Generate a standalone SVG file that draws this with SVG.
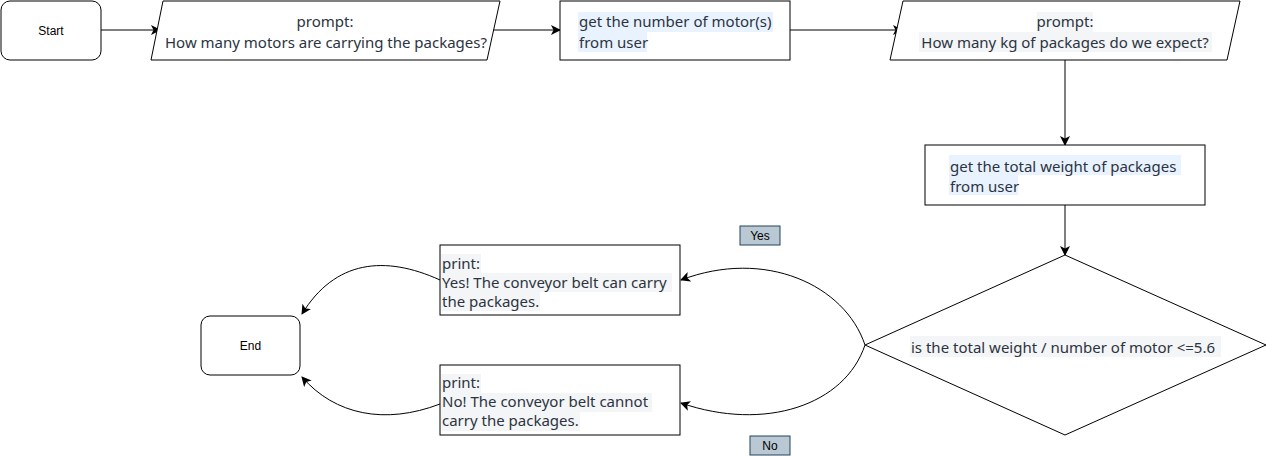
<svg xmlns="http://www.w3.org/2000/svg" width="1266" height="456" viewBox="0 0 1266 456">
<defs>
<style>
.shape{fill:#ffffff;stroke:#000000;stroke-width:1}
.lbl{font-family:"Liberation Sans",Arial,sans-serif;font-size:12px;fill:#000000}
.t{font-family:"Noto Sans","Open Sans",sans-serif;font-size:15px;fill:#2b3440}
.hb{fill:#e9f2ff}
.hg{fill:#f4f5f7}
.edge{fill:none;stroke:#000000;stroke-width:1}
.tag{fill:#bac8d3;stroke:#23445d;stroke-width:1}
</style>
<marker id="arr" viewBox="0 0 10 10" refX="9" refY="5" markerWidth="10" markerHeight="10" markerUnits="userSpaceOnUse" orient="auto">
<path d="M0,0 L10,5 L0,10 L2.5,5 Z" fill="#000000"/>
</marker>
</defs>
<rect width="1266" height="456" fill="#ffffff"/>
<g id="connectors">
<path class="edge" d="M101,30 L160,30" marker-end="url(#arr)"/>
<path class="edge" d="M492,30 L560,30" marker-end="url(#arr)"/>
<path class="edge" d="M790,30 L902,30" marker-end="url(#arr)"/>
<path class="edge" d="M1065,60 L1065,145" marker-end="url(#arr)"/>
<path class="edge" d="M1065,205 L1065,255" marker-end="url(#arr)"/>
<path class="edge" d="M865,345 C845,285 765,248 681,280" marker-end="url(#arr)"/>
<path class="edge" d="M865,345 C845,405 765,432 681,403" marker-end="url(#arr)"/>
<path class="edge" d="M440,280 C385,255 335,260 302,314" marker-end="url(#arr)"/>
<path class="edge" d="M440,404 C385,425 335,415 302,377" marker-end="url(#arr)"/>
</g>
<g id="start">
<rect class="shape" x="1" y="1" width="100" height="59" rx="9"/>
<text class="lbl" x="51" y="35" text-anchor="middle">Start</text>
</g>
<g id="prompt1">
<polygon class="shape" points="163,1 500,1 487,60 151,60"/>
<text class="t" x="325" y="27" text-anchor="middle">prompt:</text>
<text class="t" x="326" y="48" text-anchor="middle">How many motors are carrying the packages?</text>
</g>
<g id="getMotors">
<rect class="shape" x="560" y="1" width="230" height="59"/>
<rect class="hb" x="578" y="12" width="195" height="20"/>
<rect class="hb" x="578" y="32" width="69" height="20"/>
<text class="t" x="579" y="27">get the number of motor(s)</text>
<text class="t" x="579" y="48">from user</text>
</g>
<g id="prompt2">
<polygon class="shape" points="903,1 1240,1 1227,60 890,60"/>
<rect class="hg" x="1037" y="12" width="56" height="20"/>
<rect class="hg" x="919" y="32" width="293" height="20"/>
<text class="t" x="1065" y="27" text-anchor="middle">prompt:</text>
<text class="t" x="1065" y="48" text-anchor="middle">How many kg of packages do we expect?</text>
</g>
<g id="getWeight">
<rect class="shape" x="925" y="145" width="280" height="60"/>
<rect class="hb" x="949" y="155" width="232" height="20"/>
<rect class="hb" x="949" y="175" width="69" height="20"/>
<text class="t" x="950" y="172">get the total weight of packages</text>
<text class="t" x="950" y="192">from user</text>
</g>
<g id="decision">
<polygon class="shape" points="1065,255 1266,345 1065,435 865,345"/>
<rect class="hg" x="910" y="336" width="311" height="21"/>
<text class="t" x="911" y="353">is the total weight / number of motor &lt;=5.6</text>
</g>
<g id="printYes">
<rect class="shape" x="440" y="245" width="240" height="70"/>
<rect class="hg" x="441" y="254" width="40" height="19"/>
<rect class="hg" x="441" y="273" width="231" height="19"/>
<rect class="hg" x="441" y="292" width="99" height="19"/>
<text class="t" x="442" y="269">print:</text>
<text class="t" x="442" y="288">Yes! The conveyor belt can carry</text>
<text class="t" x="442" y="307">the packages.</text>
</g>
<g id="printNo">
<rect class="shape" x="440" y="365" width="240" height="70"/>
<rect class="hg" x="441" y="374" width="40" height="19"/>
<rect class="hg" x="441" y="393" width="211" height="19"/>
<rect class="hg" x="441" y="412" width="139" height="19"/>
<text class="t" x="442" y="388">print:</text>
<text class="t" x="442" y="407">No! The conveyor belt cannot</text>
<text class="t" x="442" y="426">carry the packages.</text>
</g>
<g id="end">
<rect class="shape" x="201" y="316" width="99" height="59" rx="9"/>
<text class="lbl" x="250.5" y="350" text-anchor="middle">End</text>
</g>
<g id="yesLabel">
<rect class="tag" x="740" y="226" width="40" height="19"/>
<text class="lbl" x="760" y="240" text-anchor="middle">Yes</text>
</g>
<g id="noLabel">
<rect class="tag" x="750" y="436" width="40" height="19"/>
<text class="lbl" x="770" y="450" text-anchor="middle">No</text>
</g>
</svg>
